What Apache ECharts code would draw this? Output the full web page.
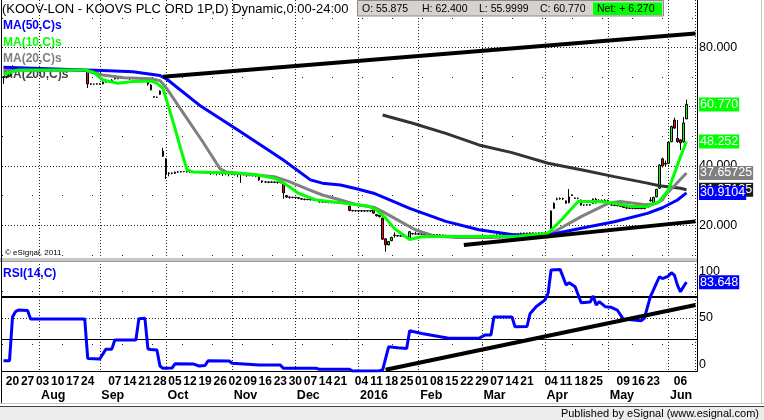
<!DOCTYPE html>
<html><head><meta charset="utf-8">
<script src="https://cdn.jsdelivr.net/npm/echarts/dist/echarts.min.js"></script>
<style>html,body{margin:0;padding:0;background:#fff}#c{width:764px;height:420px}</style>
</head><body><div id="c"></div>
<script>
// ---------------- data ----------------
const startDate = '2015-07-15';
const categoryCount = 231;
const holidays = ['2015-08-31','2015-12-25','2015-12-28','2016-01-01','2016-03-25','2016-03-28','2016-05-02','2016-05-30'];
const monthNames = ['2016','Feb','Mar','Apr','May','Jun','Jul','Aug','Sep','Oct','Nov','Dec'];
const priceTicks = [20,40,60,80];
const rsiTicks = [0,50,100];
const rsiLevels = [70,30];

// [open, close, low, high]
const ohlc = [
[70.0,70.0,67.7,70.2],[70.0,70.1,69.5,70.3],[70.3,72.4,70.1,72.6],[73.4,72.4,72.2,74.0],[72.4,72.6,72.2,72.8],[72.6,72.8,72.5,73.2],[72.8,72.7,72.4,73.0],[72.7,72.6,72.3,72.9],[72.6,72.4,72.2,72.7],[72.4,72.4,72.2,72.6],
[72.4,72.3,72.1,72.5],[72.3,72.3,72.2,72.5],[72.3,72.2,72.0,72.4],[72.2,72.3,72.0,72.5],[72.3,72.3,72.1,72.4],[72.3,72.2,72.0,72.4],[72.2,72.2,72.1,72.3],[72.2,72.3,72.0,72.4],[72.3,72.3,72.2,72.5],[72.3,72.2,72.0,72.4],
[72.2,72.2,72.1,72.3],[72.2,72.3,72.1,72.4],[72.3,72.3,72.2,72.4],[72.3,72.4,72.2,72.6],[72.4,72.5,72.3,72.7],[72.5,72.6,72.4,72.8],[72.6,72.5,72.3,72.7],[72.5,72.4,72.3,72.6],[72.4,67.7,66.3,72.6],[67.7,67.6,67.3,67.9],
[67.6,67.6,67.4,67.8],[67.6,67.7,67.5,67.9],[67.7,67.7,67.5,67.9],[67.7,68.3,67.6,68.5],[68.3,68.4,68.1,68.6],[68.5,68.8,68.3,69.0],[68.8,69.0,68.6,69.3],[70.5,69.4,69.2,70.7],[69.4,69.6,69.3,69.8],[69.6,69.6,69.4,69.8],
[69.6,69.7,69.5,69.9],[69.7,69.6,69.4,69.8],[69.6,69.6,69.0,69.8],[69.6,69.8,69.5,70.0],[69.8,69.8,69.6,70.0],[69.8,69.7,69.5,69.9],[69.5,69.4,69.2,69.6],[69.4,69.3,69.1,69.5],[69.4,67.6,67.1,69.6],[67.3,65.7,65.5,67.6],
[63.4,63.2,63.0,63.5],[63.2,63.2,63.0,63.4],[65.3,64.2,64.0,65.5],[45.0,43.3,43.0,46.1],[42.4,37.3,35.6,42.6],[37.4,37.6,36.5,37.9],[37.6,37.5,37.2,37.8],[37.5,37.9,37.3,38.1],[37.9,38.0,37.7,38.2],[38.0,38.1,37.8,38.3],
[38.1,38.1,37.9,38.3],[38.1,38.0,37.8,38.2],[38.0,38.1,37.7,38.3],[38.1,38.0,37.8,38.2],[38.0,37.9,37.7,38.1],[37.9,37.9,37.6,38.1],[37.9,37.8,37.6,38.0],[37.8,37.8,37.4,38.0],[37.8,37.7,37.3,37.9],[37.7,37.7,37.0,37.9],
[37.7,37.6,37.2,37.8],[37.6,37.6,36.8,37.8],[37.6,37.5,37.0,37.7],[37.5,37.5,36.6,37.7],[37.5,37.4,36.9,37.6],[37.4,37.4,36.5,37.6],[37.4,37.3,37.0,37.5],[37.3,37.3,36.8,37.5],[37.3,37.2,36.2,37.4],[37.2,37.2,34.3,37.4],
[37.2,37.1,36.8,37.3],[37.1,37.0,36.3,37.2],[37.0,37.0,36.5,37.2],[37.0,36.9,36.4,37.1],[36.9,36.9,36.2,37.1],[36.3,35.3,35.0,36.5],[35.0,34.6,34.3,35.1],[34.6,34.6,34.3,34.8],[34.6,34.5,34.2,34.7],[34.5,34.6,34.3,34.8],
[34.6,34.5,34.2,34.7],[34.5,34.5,34.0,34.6],[34.5,34.4,34.1,34.6],[34.4,30.9,28.9,34.6],[30.0,29.5,29.2,30.2],[29.5,29.4,29.0,29.7],[29.4,29.4,29.1,29.6],[29.4,29.3,29.0,29.5],[29.3,29.1,28.8,29.4],[29.0,28.8,28.5,29.1],
[28.8,28.7,28.4,28.9],[28.7,28.7,28.4,28.9],[28.7,28.6,28.3,28.8],[28.6,28.6,28.3,28.8],[28.6,28.5,28.2,28.7],[28.2,27.9,27.6,28.3],[27.9,27.9,27.6,28.1],[27.9,27.8,27.5,28.0],[27.8,27.8,27.4,28.0],[27.8,27.7,27.4,27.9],
[27.7,27.7,27.3,27.9],[27.7,27.6,27.3,27.8],[27.6,27.6,27.2,27.8],[27.6,27.5,27.2,27.7],[27.5,27.5,27.1,27.7],[26.4,25.0,24.7,26.6],[25.0,24.9,24.6,25.1],[24.9,24.9,24.6,25.1],[24.9,24.8,24.5,25.0],[24.8,24.9,24.5,25.1],
[24.9,24.8,24.5,25.0],[24.8,24.9,24.6,25.0],[24.9,24.8,24.5,25.0],[25.7,24.1,23.8,25.9],[23.6,23.2,22.9,23.7],[23.4,22.9,22.6,23.5],[22.4,15.3,15.0,22.6],[15.4,13.4,11.1,15.6],[13.4,14.5,13.2,14.7],[14.8,15.9,14.6,16.1],
[16.6,16.7,15.8,17.6],[16.5,16.4,16.1,16.7],[16.4,16.4,16.1,16.6],[16.4,16.3,16.0,16.5],[16.0,15.8,15.6,16.2],[15.6,17.8,15.4,18.0],[17.2,17.1,16.8,17.4],[17.1,17.1,16.8,17.8],[17.1,17.0,16.7,17.3],[17.0,17.0,16.7,17.2],
[17.0,16.9,16.6,17.1],[16.9,16.9,16.6,17.1],[16.9,16.8,16.5,17.0],[16.8,16.8,16.5,17.0],[16.8,16.7,16.4,16.9],[16.7,16.7,16.4,16.9],[16.7,16.6,16.3,16.8],[16.6,16.6,16.3,16.8],[16.6,16.5,16.2,16.7],[16.5,16.5,16.2,16.7],
[16.5,16.4,16.1,16.6],[16.4,16.4,16.1,16.6],[16.4,16.3,16.0,16.5],[16.3,16.3,16.0,16.5],[16.3,16.2,15.9,16.4],[16.2,16.2,15.9,16.4],[16.2,16.3,16.0,16.4],[16.3,16.3,16.0,16.5],[16.3,16.4,16.1,16.6],[16.4,16.4,16.1,16.6],
[16.4,16.5,16.2,16.7],[16.5,16.5,16.2,16.7],[16.5,16.6,16.3,16.8],[16.6,16.6,16.3,16.8],[16.6,16.7,16.4,16.9],[16.7,16.7,16.4,16.9],[16.7,16.8,16.5,17.0],[16.8,16.8,16.5,17.0],[16.8,16.9,16.6,17.1],[16.9,17.0,16.7,17.2],
[17.0,17.1,16.8,17.3],[17.1,17.2,16.9,17.4],[17.2,17.3,17.0,17.5],[17.3,17.3,17.0,17.5],[17.3,17.3,17.0,17.5],[17.3,17.4,17.1,17.6],[17.4,17.3,17.0,17.6],[17.3,17.3,17.0,17.5],[17.3,17.4,17.1,17.6],[17.4,17.4,17.1,17.6],
[17.4,17.5,17.2,17.7],[17.5,17.6,17.3,17.8],[18.6,24.8,18.4,25.0],[25.7,27.4,25.5,27.7],[28.8,28.9,28.4,29.3],[28.9,29.0,28.6,29.4],[29.0,28.9,28.5,29.3],[28.2,27.4,27.2,28.4],[27.6,29.6,27.4,32.2],[30.2,30.2,29.9,30.4],
[29.2,29.1,28.9,29.3],[29.1,29.1,28.8,29.3],[28.5,26.8,26.6,28.7],[26.8,26.8,26.5,27.0],[26.8,26.9,26.6,27.1],[26.9,26.8,26.6,27.0],[28.8,27.4,27.2,29.0],[28.8,27.5,27.3,29.2],[28.3,28.3,27.8,28.8],[28.3,28.2,27.8,28.7],
[28.2,28.3,27.9,28.8],[28.3,28.2,27.9,28.6],[26.9,26.8,26.5,27.1],[26.8,26.7,26.4,27.0],[26.7,26.6,26.3,26.9],[26.6,26.4,26.1,26.8],[26.7,26.0,25.8,26.9],[25.9,25.8,25.5,26.0],[25.8,25.7,25.5,26.0],[25.7,25.7,25.4,25.9],
[25.7,25.6,25.4,25.9],[25.6,25.7,25.4,25.9],[25.7,25.6,25.4,25.8],[25.6,25.7,25.4,25.9],[26.0,27.1,25.8,27.3],[28.3,28.5,27.9,29.5],[27.6,29.4,27.4,29.6],[29.6,32.1,29.4,32.3],[32.5,40.3,32.3,40.6],[42.4,40.0,39.5,42.8],
[40.6,40.9,40.0,41.8],[40.9,48.0,40.6,48.3],[48.2,53.3,48.0,53.6],[55.5,52.8,52.5,56.3],[49.3,48.2,47.8,55.5],[48.8,47.8,45.4,49.0],[48.2,54.5,47.8,56.5],[55.875,60.77,55.9999,62.4]
];

// moving averages: [dayIndex, value]
const ma10 = [[0,71.0],[5,72.4],[27,72.4],[30,71.6],[33,69.0],[38,67.9],[43,68.5],[49,68.7],[51,67.9],[53,66.2],[55,59.5],[57,52.7],[59,45.4],[61,38.7],[63,38.0],[70,37.8],[79,37.5],[84,37.0],[88,36.3],[91,35.5],[95,33.0],[98,30.8],[104,28.5],[112,27.6],[121,26.5],[124,25.2],[127,22.4],[130,18.8],[135,15.2],[139,16.1],[148,16.2],[170,16.2],[181,17.3],[186,22.4],[191,28.0],[198,28.0],[203,27.4],[209,26.3],[214,26.3],[218,28.0],[221,31.9],[223,37.5],[225,43.1],[227,48.252]];
const ma20 = [[0,72.4],[27,72.2],[33,70.7],[40,69.8],[49,69.4],[52,68.8],[54,66.5],[60,57.5],[66,48.5],[72,39.0],[74,38.0],[80,37.3],[90,36.4],[95,34.7],[101,32.2],[106,30.2],[112,28.5],[118,26.8],[123,26.1],[126,24.6],[132,21.2],[137,18.4],[143,16.4],[151,15.9],[162,15.9],[170,16.1],[181,16.1],[183,17.8],[192,22.9],[201,27.4],[205,28.0],[214,26.8],[217,27.4],[219,28.5],[220,30.2],[223,33.3],[227,37.65725]];
const ma50 = [[0,73.3],[27,72.4],[33,72.2],[43,71.8],[52,70.5],[54,69.5],[65,60.6],[77,52.7],[88,45.4],[93,42.0],[102,35.3],[106,34.2],[112,33.6],[117,32.4],[123,30.8],[126,29.6],[135,25.7],[147,21.3],[158,18.5],[170,16.7],[181,16.7],[192,19.0],[203,21.2],[214,24.0],[219,25.9],[224,28.5],[227,30.9104]];
const ma200 = [[126,57.2],[136,54.4],[147,51.0],[158,47.1],[169,44.5],[181,40.9],[192,38.7],[203,36.4],[214,34.2],[218,33.3],[225,32.5],[227,31.97125]];
const rsi = [[0,10],[2,10],[3,51],[4,56],[5,57.5],[8,57],[9,49],[27,49],[28,12],[32,11.6],[34,20.6],[36,20.8],[37,29.3],[44,29.3],[45,49.4],[47,49.7],[48,21],[49,20.5],[51,20],[52,5],[53,2.8],[56,3],[57,7],[63,6.9],[65,5],[67,5.5],[68,9.9],[75,9.7],[76,7.5],[85,6],[92,6],[93,2.8],[104,2.8],[105,1.9],[115,1.9],[116,0.3],[125,0.5],[126,1.2],[128,23],[131,22],[134,21.5],[135,38],[139,35.5],[148,31],[158,31],[160,34],[162,34],[163,51],[169,51],[170,41.8],[174,42],[175,54],[177,60.5],[180,67],[181,73],[182,95],[185,95.6],[187,81],[188,83],[190,79.3],[192,64.3],[195,65],[196,70.6],[197,62.2],[198,65.3],[200,60.6],[202,60],[204,57.5],[206,49],[212,47.5],[213,49.7],[215,70],[216,76.2],[218,88.7],[219,87],[221,89.3],[222,92.4],[223,90.2],[224,80.9],[225,74.6],[226,79.3],[227,83.648]];

// hand-drawn trend lines: [dayIndex, value]
const trendUpper = [[53,70.1],[230,84.7]];
const trendLower = [[153,13.3],[230,21.3]];
const trendRsi = [[127,1.5],[230,62.2]];

const title = '(KOOV-LON - KOOVS PLC ORD 1P,D) Dynamic,0:00-24:00';
const legendNames = ['MA(50,C)s','MA(10,C)s','MA(20,C)s','MA(200,C)s'];

// ---------------- build ----------------
function buildDates(){
  const out=[]; let t=Date.parse(startDate+'T00:00:00Z');
  while(out.length<categoryCount){
    const d=new Date(t); const wd=d.getUTCDay(); const s=d.toISOString().slice(0,10);
    if(wd!==0&&wd!==6&&holidays.indexOf(s)<0) out.push(s);
    t+=86400000;
  }
  return out;
}
const dates = buildDates();
const lastIdx = ohlc.length-1;
const isMonday = s => new Date(s+'T00:00:00Z').getUTCDay()===1;
const monthOf = s => +s.slice(5,7);
const isMonthStart = i => i>0 && monthOf(dates[i])!==monthOf(dates[i-1]);
function fmt(v){ const s=String(v); const dec=s.indexOf('.')<0?0:s.split('.')[1].length; return dec<3? v.toFixed(3): s; }

const ARIAL = '"Liberation Sans",Arial,sans-serif';
const C_BLUE='#0000ff', C_GREEN='#00ff00', C_GRAY='#808080', C_DARK='#333333';

function tag(val,bg){
  return {yAxis:val, lineStyle:{color:'rgba(0,0,0,0)',width:1},
    label:{show:true,position:'end',distance:2,formatter:fmt(val),backgroundColor:bg,color:'#fff',
      fontFamily:ARIAL,fontSize:12.5,lineHeight:14,padding:[0,1,0,1]}};
}
function maSeries(name,data,color,z){
  return {name,type:'line',xAxisIndex:0,yAxisIndex:0,data,symbol:'none',showSymbol:false,z,
    lineStyle:{color,width:3},silent:true,
    markLine:{silent:true,symbol:'none',animation:false,data:[tag(data[data.length-1][1],color==C_DARK?'#1a1a1a':color)]}};
}
function trendSeries(data,xi,yi){
  return {type:'line',xAxisIndex:xi,yAxisIndex:yi,data,symbol:'none',z:8,silent:true,lineStyle:{color:'#000',width:4}};
}

const last = ohlc[lastIdx], prevClose = ohlc[lastIdx-1][1];
const ohlcText = [['O: '+fmt(last[0]),362],['H: '+fmt(last[3]),422],['L: '+fmt(last[2]),479],['C: '+fmt(last[1]),540]];

const graphic = [
  {type:'text',x:2,y:9.5,z:1,style:{text:title,font:'13px '+ARIAL,fill:'#000',textVerticalAlign:'middle',verticalAlign:'middle'}},
  {type:'rect',z:1,shape:{x:357.5,y:0.5,width:306,height:15.5},style:{fill:'#d6d3ce',stroke:'#8a8a8a',lineWidth:1}},
  {type:'rect',z:1,shape:{x:593,y:2.5,width:69,height:12.5},style:{fill:'#00ff00',stroke:null}},
  {type:'text',x:597,y:9.5,z:2,style:{text:'Net: + '+(last[1]-prevClose).toFixed(3),font:'10.5px '+ARIAL,fill:'#000',textVerticalAlign:'middle',verticalAlign:'middle'}},
  ...ohlcText.map(([t,x])=>({type:'text',x,y:9.5,z:2,style:{text:t,font:'10.5px '+ARIAL,fill:'#000',textVerticalAlign:'middle',verticalAlign:'middle'}})),
  ...legendNames.map((t,k)=>({type:'text',x:3,y:[25.5,42.5,58.5,75][k],z:0,style:{text:t,font:'bold 12px '+ARIAL,fill:[C_BLUE,C_GREEN,C_GRAY,'#444'][k],textVerticalAlign:'middle',verticalAlign:'middle'}})),
  {type:'text',x:5,y:253,z:0,style:{text:'\u00a9 eSignal, 2011',font:'8px '+ARIAL,fill:'#000',textVerticalAlign:'middle',verticalAlign:'middle'}},
  {type:'rect',z:10,shape:{x:0,y:258,width:697,height:3.5},style:{fill:'#c8c8c8',stroke:null}},
  {type:'line',z:10,shape:{x1:0,y1:261.5,x2:697,y2:261.5},style:{stroke:'#9a9a9a',lineWidth:1}},
  {type:'text',x:3,y:274,z:11,style:{text:'RSI(14,C)',font:'bold 12px '+ARIAL,fill:C_BLUE,textVerticalAlign:'middle',verticalAlign:'middle'}},
  {type:'line',z:10,shape:{x1:1.5,y1:0,x2:1.5,y2:404},style:{stroke:'#000',lineWidth:1}},
  {type:'line',z:10,shape:{x1:761.5,y1:0,x2:761.5,y2:404},style:{stroke:'#c8c8c8',lineWidth:1}},
  {type:'line',z:10,shape:{x1:0,y1:403.5,x2:764,y2:403.5},style:{stroke:'#c8c8c8',lineWidth:1}},
  {type:'rect',z:10,shape:{x:0,y:406,width:764,height:14},style:{fill:'#ececec',stroke:null}},
  {type:'line',z:10,shape:{x1:0,y1:406.5,x2:764,y2:406.5},style:{stroke:'#404040',lineWidth:1}},
  {type:'text',x:759,y:413.5,z:11,style:{text:'Published by eSignal (www.esignal.com)',font:'11px '+ARIAL,fill:'#000',textAlign:'right',align:'right',textVerticalAlign:'middle',verticalAlign:'middle'}}
];

const dotted = {color:'#222',width:1,type:[1,2]};
const sparse = {color:'#222',width:1,type:[1,29]};

const option = {
  animation:false,
  backgroundColor:'#fff',
  textStyle:{fontFamily:ARIAL},
  graphic,
  grid:[
    {left:2,right:67,top:0,height:284.5},
    {left:2,right:67,top:264.7,height:106.6},
    {left:0.5,right:68.5,top:0,height:371.3}
  ],
  xAxis:[
    {gridIndex:0,type:'category',data:dates,show:false},
    {gridIndex:1,type:'category',data:dates,axisLine:{lineStyle:{color:'#000',width:1}},axisTick:{show:false},splitLine:{show:false},
      axisLabel:{interval:(i,v)=>i<=lastIdx&&isMonday(v),formatter:v=>v.slice(8,10),fontFamily:ARIAL,fontWeight:'bold',fontSize:12,color:'#000',margin:4}},
    {gridIndex:2,type:'category',data:dates,axisLine:{show:false},axisTick:{show:false},
      splitLine:{show:true,interval:(i)=>isMonthStart(i),lineStyle:dotted},
      axisLabel:{interval:(i)=>isMonthStart(i),formatter:v=>monthNames[monthOf(v)===1?0:monthOf(v)-1],align:'left',fontFamily:ARIAL,fontWeight:'bold',fontSize:12.5,color:'#000',margin:18}}
  ],
  yAxis:[
    {gridIndex:0,type:'value',position:'right',min:0,max:96,interval:20,
      axisLine:{show:true,lineStyle:{color:'#000'}},axisTick:{show:false},
      axisLabel:{formatter:v=>priceTicks.indexOf(v)>=0?v.toFixed(3):'',fontFamily:ARIAL,fontSize:12.5,color:'#000',margin:2},
      splitLine:{show:true,showMinLine:false,showMaxLine:false,lineStyle:dotted},
      minorTick:{show:false,splitNumber:2},minorSplitLine:{show:true,lineStyle:sparse}},
    {gridIndex:1,type:'value',position:'right',min:0,max:100,interval:50,
      axisLine:{show:true,lineStyle:{color:'#000'}},axisTick:{show:false},
      axisLabel:{formatter:v=>rsiTicks.indexOf(v)>=0?String(v):'',fontFamily:ARIAL,fontSize:12.5,color:'#000',margin:2,verticalAlignMinLabel:'bottom',verticalAlignMaxLabel:'top'},
      splitLine:{show:true,showMinLine:false,showMaxLine:false,lineStyle:dotted},
      minorTick:{show:false,splitNumber:2},minorSplitLine:{show:true,lineStyle:sparse}},
    {gridIndex:2,type:'value',show:false,min:0,max:1}
  ],
  series:[
    {name:'KOOV',type:'candlestick',xAxisIndex:0,yAxisIndex:0,data:ohlc,barWidth:2,z:2,silent:true,
      itemStyle:{color:'#00ff00',color0:'#ff0000',borderColor:'#000',borderColor0:'#000',borderColorDoji:'#000',borderWidth:1},
      markLine:{silent:true,symbol:'none',animation:false,data:[tag(last[1],'#00ff00')]}},
    maSeries('MA200',ma200,C_DARK,3),
    maSeries('MA20',ma20,C_GRAY,4),
    maSeries('MA50',ma50,C_BLUE,5),
    maSeries('MA10',ma10,C_GREEN,6),
    trendSeries(trendUpper,0,0),
    trendSeries(trendLower,0,0),
    {name:'RSI',type:'line',xAxisIndex:1,yAxisIndex:1,data:rsi,symbol:'none',z:5,silent:true,lineStyle:{color:C_BLUE,width:3},
      markLine:{silent:true,symbol:'none',animation:false,data:[
        {yAxis:rsiLevels[0],lineStyle:{color:'#000',width:2,type:'solid'},label:{show:false}},
        {yAxis:rsiLevels[1],lineStyle:{color:'#000',width:1,type:'solid'},label:{show:false}},
        tag(rsi[rsi.length-1][1],C_BLUE)
      ]}},
    trendSeries(trendRsi,1,1)
  ]
};
echarts.init(document.getElementById('c'),null,{renderer:'canvas'}).setOption(option);
</script></body></html>
